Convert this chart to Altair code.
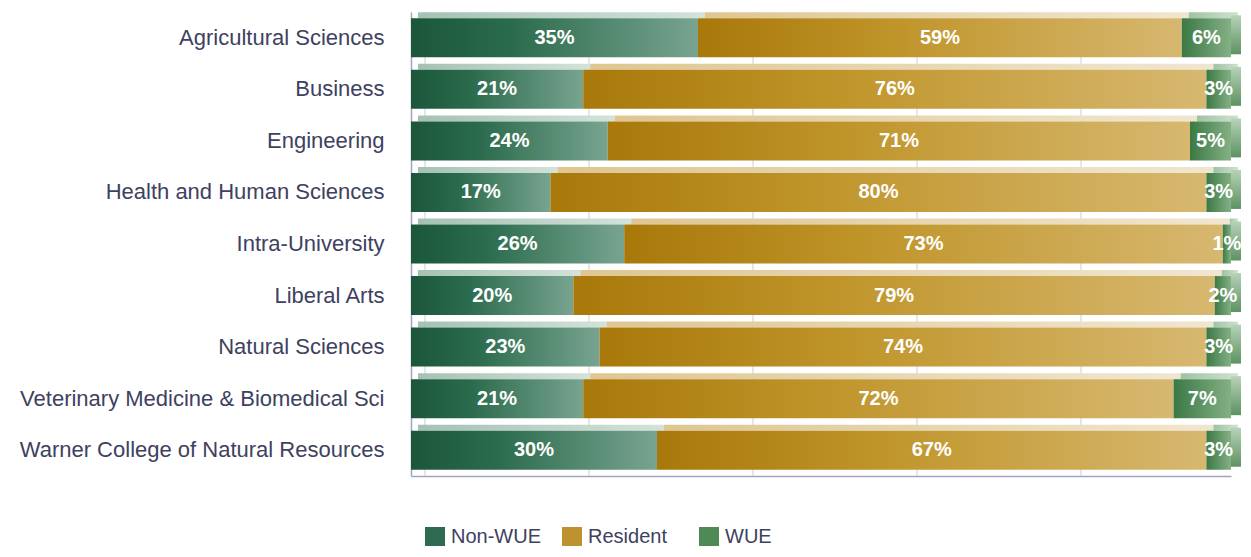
import altair as alt
import pandas as pd

categories = [
    "Agricultural Sciences",
    "Business",
    "Engineering",
    "Health and Human Sciences",
    "Intra-University",
    "Liberal Arts",
    "Natural Sciences",
    "Veterinary Medicine & Biomedical Sci",
    "Warner College of Natural Resources",
]
series = ["Non-WUE", "Resident", "WUE"]
non_wue = [35, 21, 24, 17, 26, 20, 23, 21, 30]
resident = [59, 76, 71, 80, 73, 79, 74, 72, 67]
wue = [6, 3, 5, 3, 1, 2, 3, 7, 3]
grid_ticks = [0, 0.2, 0.4, 0.6, 0.8]

rows = []
for i, c in enumerate(categories):
    for j, (s, vals) in enumerate(zip(series, [non_wue, resident, wue])):
        rows.append({"cat": c, "series": s, "order": j, "value": vals[i]})
df = pd.DataFrame(rows)
grid_df = pd.DataFrame({"g": grid_ticks})

def grad(stops):
    return {
        "gradient": "linear", "x1": 0, "x2": 1, "y1": 0, "y2": 0,
        "stops": [{"offset": o, "color": c} for o, c in stops],
    }

front_grad = {
    "Non-WUE": grad([(0, "#1b563a"), (0.35, "#2b6b4d"), (1, "#78a490")]),
    "Resident": grad([(0, "#a8780a"), (0.4, "#bf9429"), (1, "#d7b870")]),
    "WUE": grad([(0, "#3b7944"), (1, "#84b086")]),
}
top_grad = {
    "Non-WUE": grad([(0, "#a4c2b3"), (1, "#d3e2da")]),
    "Resident": grad([(0, "#dfc692"), (1, "#f0e6cf")]),
    "WUE": grad([(0, "#9fc2a2"), (1, "#cfe2cf")]),
}
side_grad = {
    "gradient": "linear", "x1": 0, "x2": 0, "y1": 0, "y2": 1,
    "stops": [{"offset": 0, "color": "#b7d3b8"}, {"offset": 1, "color": "#5d9262"}],
}

xscale = alt.Scale(domain=[0, 1], nice=False, zero=True)
X_AXIS = alt.Axis(
    labels=False, ticks=False, grid=False, title=None,
    domainColor="#a3a3c2", domainWidth=1.5,
)
Y = alt.Y(
    "cat:N", sort=categories, title=None,
    scale=alt.Scale(paddingInner=0, paddingOuter=0),
    axis=alt.Axis(
        ticks=False, grid=False, domainColor="#a3a3c2", domainWidth=1.5,
        labelFont="Liberation Sans", labelFontSize=22, labelColor="#3e4160",
        labelPadding=27, labelLimit=420,
    ),
)

base = alt.Chart(df).transform_stack(
    stack="value", groupby=["cat"], as_=["x0", "x1"],
    sort=[alt.SortField("order", order="ascending")], offset="normalize",
).transform_calculate(mid="(datum.x0 + datum.x1) / 2", lab="datum.value + '%'")

grid = alt.Chart(grid_df).mark_rule(color="#dcdce6", strokeWidth=1.5, xOffset=14).encode(
    x=alt.X("g:Q", scale=xscale, axis=X_AXIS)
)

layers = [grid]
for s in series:
    f = base.transform_filter(alt.datum.series == s)
    layers.append(
        f.mark_bar(size=6, yOffset=-22.5, xOffset=7, x2Offset=7, color=top_grad[s]).encode(
            x=alt.X("x0:Q", scale=xscale, axis=X_AXIS), x2="x1:Q", y=Y
        )
    )
    layers.append(
        f.mark_bar(size=39, color=front_grad[s]).encode(
            x=alt.X("x0:Q", scale=xscale, axis=X_AXIS), x2="x1:Q", y=Y
        )
    )

side = base.transform_filter(alt.datum.series == "WUE").mark_bar(
    size=39, yOffset=-3, x2Offset=10, color=side_grad
).encode(x=alt.X("x1:Q", scale=xscale, axis=X_AXIS), x2="x1:Q", y=Y)
layers.append(side)

legend_layer = base.mark_bar(size=39, opacity=0).encode(
    x=alt.X("x0:Q", scale=xscale, axis=X_AXIS), x2="x1:Q", y=Y,
    color=alt.Color(
        "series:N",
        scale=alt.Scale(domain=series, range=["#2e6a4f", "#bf9230", "#4f8a56"]),
        legend=alt.Legend(
            title=None, orient="none", legendX=14, legendY=515,
            direction="horizontal", columns=3, gridAlign="all", columnPadding=20,
            symbolType="square", symbolSize=400, symbolOpacity=1,
            symbolStrokeWidth=0, labelFont="Liberation Sans", labelFontSize=20,
            labelColor="#3e4160", labelOffset=6,
        ),
    ),
)
layers.append(legend_layer)

text = base.mark_text(
    color="white", font="Liberation Sans", fontWeight="bold", fontSize=20,
    align="center", baseline="middle",
).encode(x=alt.X("mid:Q", scale=xscale, axis=X_AXIS), y=Y, text="lab:N")
layers.append(text)

chart = alt.layer(*layers).properties(
    width=820, height=464,
    autosize=alt.AutoSizeParams(type="none"),
    padding={"left": 403, "top": 4, "right": 12, "bottom": 70},
).configure_view(stroke=None)

chart.save("out.html", embed_options={"renderer": "svg", "actions": False})
